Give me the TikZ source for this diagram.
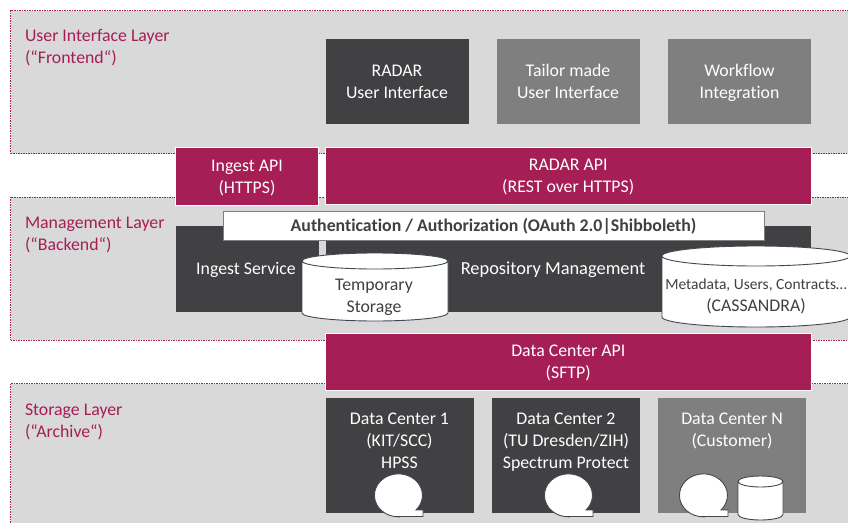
\documentclass[tikz,border=0pt]{standalone}
\usepackage{fontspec}
\setmainfont[Ligatures=NoCommon]{Carlito}
\usetikzlibrary{shapes.geometric}
\definecolor{radarred}{HTML}{A51E55}
\definecolor{layergray}{HTML}{D9D9D9}
\definecolor{boxdark}{HTML}{414042}
\definecolor{boxgray}{HTML}{7F7F7F}
\definecolor{rimgray}{HTML}{3F4A50}
\definecolor{textgray}{HTML}{404040}
\tikzset{
  tapeshape/.pic={
    \draw [fill=white, draw=rimgray, line width=0.9pt] (0pt, -21.5pt) -- (25pt, -21.5pt) -- (25pt, -15pt) -- (18pt, -15pt)
      arc [start angle=-43, end angle=270, x radius=24pt, y radius=21.5pt] -- cycle;
  }
}

\begin{document}
\begin{tikzpicture}
[every node/.style={inner sep=0pt, outer sep=0pt, align=center, font=\fontsize{17.8}{22}\selectfont},
 layer/.style={rectangle, anchor=north west, fill=layergray, draw=radarred, dash pattern=on 1.5pt off 1pt, line width=0.7pt},
 layertext/.style={anchor=north west, align=left, text=radarred},
 box/.style={rectangle, text=white, anchor=north west},
 twolines/.style={text height=36pt, text depth=2.8pt},
 darkbox/.style={box, fill=boxdark},
 graybox/.style={box, fill=boxgray},
 apibox/.style={box, fill=radarred, draw=white, line width=0.6pt},
 drumline/.style={fill=white, draw=rimgray, line width=0.9pt}]
\clip (0pt, 0pt) rectangle (848pt, -522pt);
% layers
\node (frontend) [layer, minimum width=860pt, minimum height=143pt] at (10.5pt, -10.5pt) {};
\node (backend) [layer, minimum width=860pt, minimum height=143pt] at (10.5pt, -197pt) {};
\node (archive) [layer, minimum width=860pt, minimum height=160pt] at (10.5pt, -383.5pt) {};
\node (frontendtext) [layertext] at (25pt, -29pt) {User Interface Layer\\(“Frontend“)};
\node (backendtext) [layertext] at (25pt, -217pt) {Management Layer\\(“Backend“)};
\node (archivetext) [layertext] at (25pt, -404pt) {Storage Layer\\(“Archive“)};
% frontend
\node (radarui) [darkbox, twolines, minimum width=143pt, minimum height=85pt] at (325.5pt, -39pt) {RADAR\\User Interface};
\node (tailorui) [graybox, twolines, minimum width=143pt, minimum height=85pt] at (496.5pt, -39pt) {Tailor made\\User Interface};
\node (workflow) [graybox, twolines, minimum width=143pt, minimum height=85pt] at (668pt, -39pt) {Workflow\\Integration};
% apis
\node (ingestapi) [apibox, twolines, minimum width=143pt, minimum height=57.5pt] at (175.5pt, -147.7pt) {Ingest API\\(HTTPS)};
\node (radarapi) [apibox, twolines, minimum width=485.5pt, minimum height=57pt] at (325.5pt, -147.5pt) {RADAR API\\(REST over HTTPS)};
% backend
\node (ingestservice) [darkbox, minimum width=142.5pt, minimum height=85.5pt] at (176pt, -226pt) {};
\node (repository) [darkbox, minimum width=485pt, minimum height=85.5pt] at (326pt, -226pt) {};
\node (ingesttext) [text=white] at (246pt, -270pt) {Ingest Service};
\node (repotext) [text=white, font=\fontsize{18.4}{22}\selectfont] at (553pt, -270pt) {Repository Management};
\node (auth) [rectangle, anchor=north west, fill=white, draw=boxgray, line width=0.7pt, minimum width=541pt, minimum height=28.5pt, text height=12pt, text depth=0pt, text=textgray, font=\fontsize{17.8}{22}\selectfont\bfseries] at (223pt, -211.5pt) {Authentication / Authorization (OAuth 2.0|Shibboleth)};
% temporary storage
\draw [drumline] (302pt, -261pt) arc [start angle=180, end angle=360, x radius=73pt, y radius=8pt] arc [start angle=0, end angle=180, x radius=73pt, y radius=8pt] -- (302pt, -313pt) arc [start angle=180, end angle=360, x radius=73pt, y radius=8pt] -- (448pt, -261pt);
\node (tempstoragetext) [text=textgray] at (374pt, -297.5pt) {Temporary\\Storage};
% metadata store
\draw [drumline] (662pt, -256pt) arc [start angle=180, end angle=360, x radius=94pt, y radius=10pt] arc [start angle=0, end angle=180, x radius=94pt, y radius=10pt] -- (662pt, -317pt) arc [start angle=180, end angle=360, x radius=94pt, y radius=10pt] -- (850pt, -256pt);
\node (metadatatext) [text=textgray] at (756pt, -296pt) {{\fontsize{15.5}{22}\selectfont Metadata, Users, Contracts…}\\(CASSANDRA)};
% data centers
\node (datacenterapi) [apibox, twolines, minimum width=485.5pt, minimum height=57pt] at (325.5pt, -333.5pt) {Data Center API\\(SFTP)};
\node (dcone) [darkbox, minimum width=148pt, minimum height=115pt] at (326pt, -397.5pt) {};
\node (dctwo) [darkbox, minimum width=148pt, minimum height=115pt] at (492pt, -397.5pt) {};
\node (dcn) [graybox, minimum width=148pt, minimum height=115pt] at (658pt, -397.5pt) {};
\node (dconetext) [text=white, anchor=north] at (399.5pt, -412.5pt) {Data Center 1\\(KIT/SCC)\\HPSS};
\node (dctwotext) [text=white, anchor=north] at (566pt, -412.5pt) {Data Center 2\\(TU Dresden/ZIH)\\Spectrum Protect};
\node (dcntext) [text=white, anchor=north] at (732pt, -412.5pt) {Data Center N\\(Customer)};
\pic at (398pt, -495pt) {tapeshape};
\pic at (568pt, -495pt) {tapeshape};
\pic at (703pt, -495pt) {tapeshape};
\draw [drumline] (738pt, -481.5pt) arc [start angle=180, end angle=360, x radius=22.5pt, y radius=5.5pt] arc [start angle=0, end angle=180, x radius=22.5pt, y radius=5.5pt] -- (738pt, -514.5pt) arc [start angle=180, end angle=360, x radius=22.5pt, y radius=5.5pt] -- (783pt, -481.5pt);
\end{tikzpicture}
\end{document}
